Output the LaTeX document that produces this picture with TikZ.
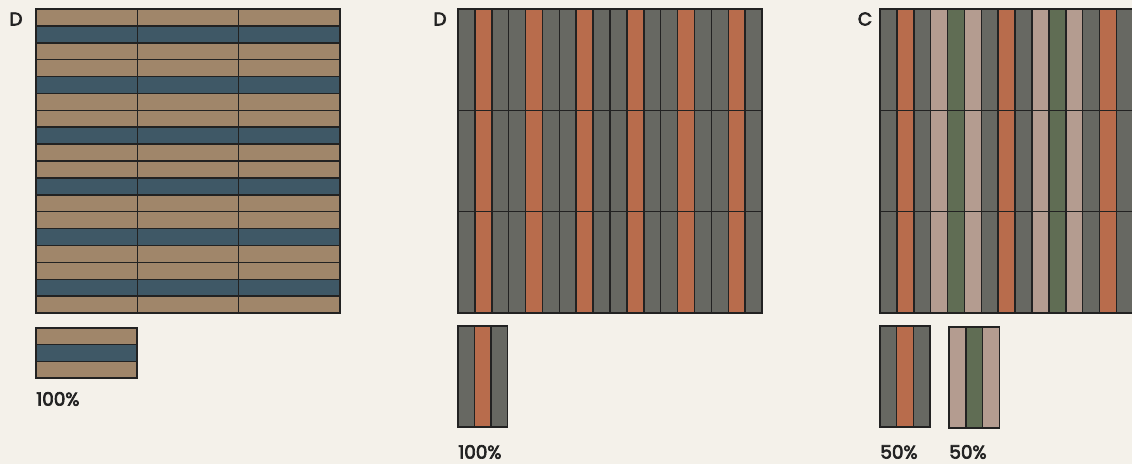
\documentclass[tikz,border=0pt]{standalone}
\usepackage{fontspec}
\setmainfont{Poppins}
\newfontfamily\tagfont{Poppins}[FakeBold=3.5]
\usepackage{tikz}
\usetikzlibrary{positioning}

\definecolor{paper}{HTML}{F4F1EA}
\definecolor{tan}{HTML}{A0866A}
\definecolor{slate}{HTML}{3F5866}
\definecolor{stone}{HTML}{676862}
\definecolor{rust}{HTML}{B86C4C}
\definecolor{blush}{HTML}{B49C90}
\definecolor{moss}{HTML}{606D54}
\definecolor{ink}{HTML}{222222}

\tikzset{
  tile/.style={draw=ink, line width=0.85pt},
  panellabel/.style={text=ink, font=\tagfont\fontsize{10.5}{12}\selectfont, inner sep=0pt},
  share/.style={text=ink, font=\tagfont\fontsize{10.5}{12}\selectfont, inner sep=0pt, anchor=west}
}

\begin{document}
\begin{tikzpicture}[x=0.02cm, y=-0.02cm]
    % canvas
    \fill[paper] (0,0) rectangle (1132,464);
    \useasboundingbox (0,0) rectangle (1132,464);

    % Panel D: horizontal boards (tan, slate, tan)
    \foreach \r in {0,...,17} {
        \pgfmathtruncatemacro{\k}{mod(\r,3)}
        \ifnum\k=1 \def\shade{slate}\else \def\shade{tan}\fi
        \foreach \c in {0,1,2} {
            \filldraw[tile, fill=\shade] (36+\c*101.33, 9+\r*16.89) rectangle ++(101.33, 16.89);
        }
    }
    \node[panellabel] (labA) at (16,19) {D};

    % swatch under panel D
    \foreach \r/\shade in {0/tan,1/slate,2/tan} {
        \filldraw[tile, fill=\shade] (36, 328+\r*16.7) rectangle ++(101, 16.7);
    }
    \node[share] (shareA) at (36,399) {100\%};

    % Panel D: vertical boards (stone, rust, stone)
    \foreach \c in {0,...,17} {
        \pgfmathtruncatemacro{\k}{mod(\c,3)}
        \ifnum\k=1 \def\shade{rust}\else \def\shade{stone}\fi
        \foreach \r in {0,1,2} {
            \filldraw[tile, fill=\shade] (458+\c*16.89, 9+\r*101.33) rectangle ++(16.89, 101.33);
        }
    }
    \node[panellabel] (labB) at (440,19) {D};

    % swatch under second panel
    \foreach \c/\shade in {0/stone,1/rust,2/stone} {
        \filldraw[tile, fill=\shade] (458+\c*16.5, 326) rectangle ++(16.5, 101);
    }
    \node[share] (shareB) at (458,452) {100\%};

    % Panel C: two mixes alternating, runs off the edge
    \begin{scope}
        \clip (0,0) rectangle (1132,464);
        \foreach \c in {0,...,17} {
            \pgfmathtruncatemacro{\k}{mod(\c,6)}
            \ifcase\k \def\shade{stone}\or \def\shade{rust}\or \def\shade{stone}\or
                \def\shade{blush}\or \def\shade{moss}\or \def\shade{blush}\fi
            \foreach \r in {0,1,2} {
                \filldraw[tile, fill=\shade] (880+\c*16.89, 9+\r*101.33) rectangle ++(16.89, 101.33);
            }
        }
    \end{scope}
    \node[panellabel] (labC) at (865,19) {C};

    % swatches under panel C
    \foreach \c/\shade in {0/stone,1/rust,2/stone} {
        \filldraw[tile, fill=\shade] (880+\c*16.7, 326) rectangle ++(16.7, 101);
    }
    \foreach \c/\shade in {0/blush,1/moss,2/blush} {
        \filldraw[tile, fill=\shade] (949+\c*16.8, 327) rectangle ++(16.8, 101);
    }
    \node[share] (shareC) at (880,452) {50\%};
    \node[share] (shareD) at (949,452) {50\%};
\end{tikzpicture}
\end{document}
